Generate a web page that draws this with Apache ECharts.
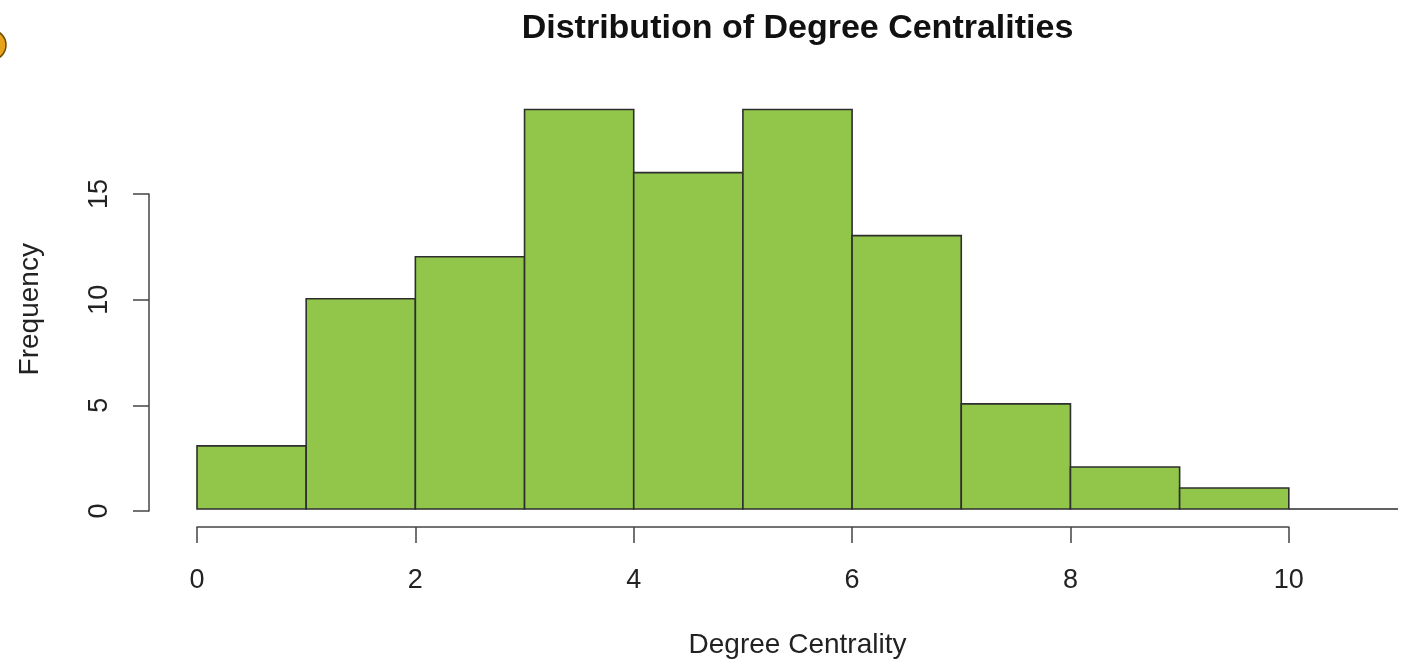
<!DOCTYPE html>
<html>
<head>
<meta charset="utf-8">
<script src="https://cdn.jsdelivr.net/npm/echarts@6/dist/echarts.min.js"></script>
<style>
  html, body { margin: 0; padding: 0; background: #fff; }
  #chart { width: 1407px; height: 664px; }
</style>
</head>
<body>
<div id="chart"></div>
<script>
// Histogram bins (left edges; each bin is one unit wide) and their counts
const binStarts = [0, 1, 2, 3, 4, 5, 6, 7, 8, 9, 10];
const binWidth = 1;
const counts = [3, 10, 12, 19, 16, 19, 13, 5, 2, 1, 0];

// Axis tick values
const xTicks = [0, 2, 4, 6, 8, 10];
const yTicks = [0, 5, 10, 15];

const titleText = 'Distribution of Degree Centralities';
const xLabel = 'Degree Centrality';
const yLabel = 'Frequency';

const xRange = [binStarts[0], binStarts[binStarts.length - 1] + binWidth];
const yRange = [0, Math.max(...counts)];

const FONT = '"Liberation Sans", Arial, Helvetica, sans-serif';
const TEXT_COLOR = '#222';
const AXIS_COLOR = '#444';

const histData = binStarts.map((s, i) => [s, s + binWidth, counts[i]]);

const chart = echarts.init(document.getElementById('chart'), null, { renderer: 'canvas' });

// Data area spans exactly the bin range; R-style axes sit 4% outside it
const dataLeft = 197, dataWidth = 1201, dataBottom = 511, dataHeight = 401.5;
const dataTop = dataBottom - dataHeight;
const pxPerX = dataWidth / (xRange[1] - xRange[0]);
const pxPerY = dataHeight / (yRange[1] - yRange[0]);
const xPadPx = (xRange[1] - xRange[0]) * 0.04 * pxPerX;
const yPadPx = (yRange[1] - yRange[0]) * 0.04 * pxPerY;

const xAxisLeft = dataLeft + (xTicks[0] - xRange[0]) * pxPerX;
const xAxisWidth = (xTicks[xTicks.length - 1] - xTicks[0]) * pxPerX;
const yAxisTop = dataBottom - (yTicks[yTicks.length - 1] - yRange[0]) * pxPerY;
const yAxisHeight = (yTicks[yTicks.length - 1] - yTicks[0]) * pxPerY;

const option = {
  backgroundColor: '#ffffff',
  animation: false,
  title: {
    text: titleText,
    left: dataLeft + dataWidth / 2 - 5,
    textAlign: 'center',
    top: 7,
    textStyle: { fontFamily: FONT, fontSize: 34, fontWeight: 'bold', color: '#111' }
  },
  grid: [
    { left: dataLeft, width: dataWidth, top: dataTop, height: dataHeight },
    // x axis strip, pushed below the data area
    { left: xAxisLeft, width: xAxisWidth, top: dataTop + yPadPx, height: dataHeight },
    // y axis strip, pushed left of the data area
    { left: dataLeft - xPadPx, width: dataWidth, top: yAxisTop, height: yAxisHeight }
  ],
  xAxis: [
    {
      gridIndex: 0, type: 'value',
      min: xRange[0], max: xRange[1], interval: 1,
      axisLine: { show: false }, axisTick: { show: false },
      axisLabel: { show: false }, splitLine: { show: false },
      name: xLabel, nameLocation: 'middle', nameGap: 122,
      nameTextStyle: { fontFamily: FONT, fontSize: 28, color: TEXT_COLOR }
    },
    {
      gridIndex: 1, type: 'value',
      min: xTicks[0], max: xTicks[xTicks.length - 1], interval: xTicks[1] - xTicks[0],
      position: 'bottom',
      axisLine: { show: true, lineStyle: { color: AXIS_COLOR, width: 1.5 } },
      axisTick: { show: true, inside: false, length: 16, lineStyle: { color: AXIS_COLOR, width: 1.5 } },
      axisLabel: { show: true, margin: 40, fontFamily: FONT, fontSize: 27, color: TEXT_COLOR },
      splitLine: { show: false }
    },
    {
      gridIndex: 2, type: 'value', min: 0, max: 1, show: false
    }
  ],
  yAxis: [
    {
      gridIndex: 0, type: 'value',
      min: yRange[0], max: yRange[1], interval: 1,
      axisLine: { show: false }, axisTick: { show: false },
      axisLabel: { show: false }, splitLine: { show: false },
      name: yLabel, nameLocation: 'middle', nameGap: 153, nameRotate: 90,
      nameTextStyle: { fontFamily: FONT, fontSize: 28, color: TEXT_COLOR }
    },
    {
      gridIndex: 1, type: 'value', min: 0, max: 1, show: false
    },
    {
      gridIndex: 2, type: 'value',
      min: yTicks[0], max: yTicks[yTicks.length - 1], interval: yTicks[1] - yTicks[0],
      position: 'left',
      axisLine: { show: true, lineStyle: { color: AXIS_COLOR, width: 1.5 } },
      axisTick: { show: true, inside: false, length: 16, lineStyle: { color: AXIS_COLOR, width: 1.5 } },
      axisLabel: { show: true, rotate: 90, margin: 36, fontFamily: FONT, fontSize: 27, color: TEXT_COLOR },
      splitLine: { show: false }
    }
  ],
  series: [
    {
      type: 'custom',
      xAxisIndex: 0,
      yAxisIndex: 0,
      data: histData,
      clip: false,
      renderItem: function (params, api) {
        const p0 = api.coord([api.value(0), api.value(2)]);
        const p1 = api.coord([api.value(1), 0]);
        return {
          type: 'rect',
          shape: { x: p0[0], y: p0[1], width: p1[0] - p0[0], height: p1[1] - p0[1] },
          style: { fill: '#92C64A', stroke: '#2e2e2e', lineWidth: 1.6 }
        };
      }
    }
  ],
  graphic: [
    {
      type: 'circle',
      shape: { cx: -9, cy: 45, r: 15 },
      style: { fill: '#E8A31C', stroke: '#6b4a00', lineWidth: 1.5 }
    }
  ]
};

chart.setOption(option);
</script>
</body>
</html>
